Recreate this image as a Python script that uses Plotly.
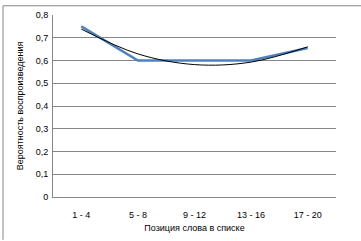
import plotly.graph_objects as go

categories = ["1 - 4", "5 - 8", "9 - 12", "13 - 16", "17 - 20"]
recall = [0.75, 0.60, 0.60, 0.60, 0.655]
trend = [0.738, 0.629, 0.582, 0.593, 0.660]
y_ticks = [0, 0.1, 0.2, 0.3, 0.4, 0.5, 0.6, 0.7, 0.8]
y_labels = ["0", "0,1", "0,2", "0,3", "0,4", "0,5", "0,6", "0,7", "0,8"]

fig = go.Figure()
fig.add_trace(go.Scatter(x=categories, y=recall, mode="lines",
                         line=dict(color="#4F81BD", width=2.5), showlegend=False))
fig.add_trace(go.Scatter(x=categories, y=trend, mode="lines",
                         line=dict(color="black", width=1, shape="spline", smoothing=1.0),
                         showlegend=False))

font = dict(family="Liberation Sans, DejaVu Sans, sans-serif", size=9, color="black")
fig.update_layout(
    width=361, height=241,
    margin=dict(l=53, r=25, t=10, b=44),
    paper_bgcolor="white", plot_bgcolor="white",
    font=font,
    xaxis=dict(type="category", range=[-0.5, 4.5], showgrid=False,
               showline=True, linecolor="#868686", linewidth=1,
               ticks="", tickfont=font, ticklabelstandoff=9,
               title=dict(text="Позиция слова в списке", font=font, standoff=5)),
    yaxis=dict(range=[0, 0.8], tickvals=y_ticks, ticktext=y_labels,
               showgrid=True, gridcolor="#868686", gridwidth=1,
               showline=True, linecolor="#868686", linewidth=1,
               ticks="", zeroline=False, tickfont=font, ticklabelstandoff=2,
               title=dict(text="Вероятность воспроизведения", font=font, standoff=10)),
    shapes=[
        dict(type="line", xref="paper", yref="paper",
             x0=-50/283, x1=1 + 25/283, y0=1 + 9.5/187, y1=1 + 9.5/187,
             line=dict(color="#868686", width=1)),
        dict(type="line", xref="paper", yref="paper",
             x0=-50/283, x1=-50/283, y0=-44/187, y1=1 + 9.5/187,
             line=dict(color="#868686", width=1)),
    ],
)

fig.write_html("out.html")
